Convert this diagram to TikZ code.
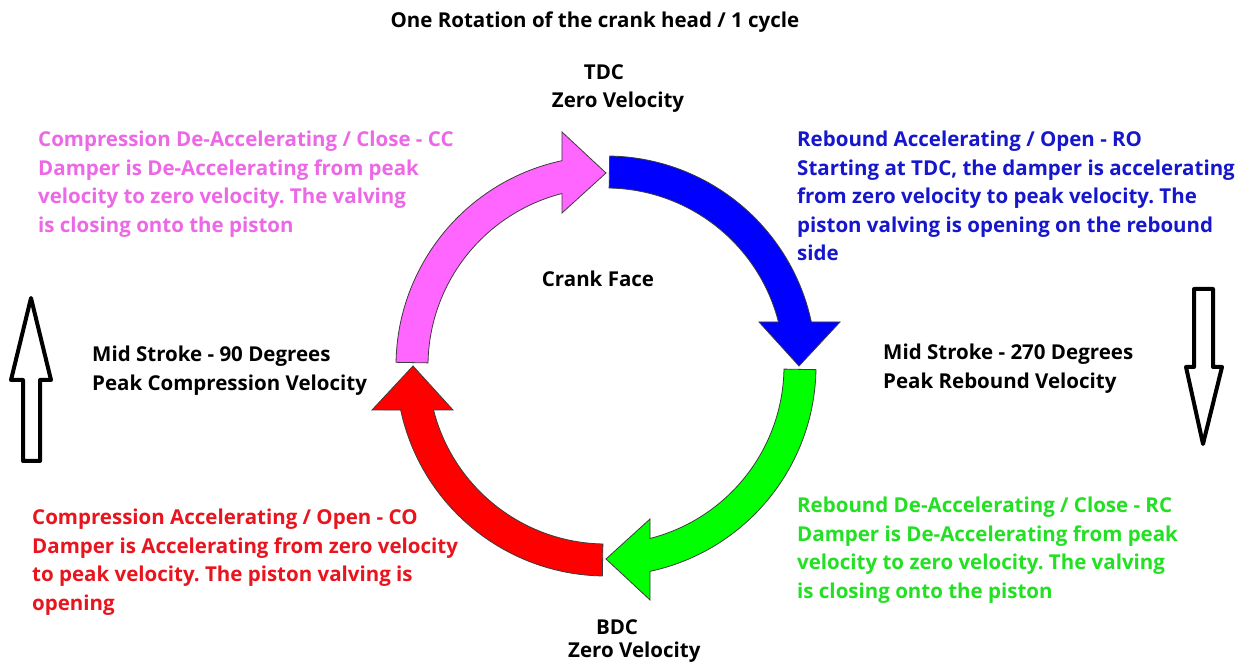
\documentclass[tikz,border=0pt]{standalone}
\usepackage{fontspec}
\setmainfont{Open Sans}
\frenchspacing
\definecolor{pinkF}{RGB}{255,102,255}
\definecolor{pinkT}{RGB}{236,104,230}
\definecolor{blueF}{RGB}{0,0,255}
\definecolor{blueT}{RGB}{22,22,205}
\definecolor{greenF}{RGB}{0,255,0}
\definecolor{greenT}{RGB}{34,224,34}
\definecolor{redF}{RGB}{255,0,0}
\definecolor{redT}{RGB}{232,20,30}
\definecolor{edgeC}{RGB}{60,60,60}
\newcommand\txtblock[1]{\vtop{\halign{##\hfil\cr#1\crcr}}}
\newcommand\quarterarrow[2]{%
  \draw[cyclearrow, fill=#2, shift={(606,302)}, rotate=#1]
    (89:210) arc[start angle=89, end angle=12.1, radius=210]
    -- (234,44) -- (193,0) -- (153,44)
    -- (14.31:178) arc[start angle=14.31, end angle=89, radius=178] -- cycle;}
\begin{document}
\begin{tikzpicture}[x=1pt, y=1pt,
  every node/.style={inner sep=0pt, font=\fontsize{20.5}{28.5}\selectfont\bfseries},
  lbl/.style={anchor=base west},
  clbl/.style={anchor=base},
  cyclearrow/.style={draw=edgeC, line width=0.8pt, line join=miter},
  bigarrow/.style={draw=black, line width=4pt, fill=white, line join=round}]
\fill[white] (0,0) rectangle (1244,668);
\useasboundingbox (0,0) rectangle (1244,668);

% cycle arrows
\quarterarrow{0}{blueF}
\quarterarrow{-90}{greenF}
\quarterarrow{180}{redF}
\quarterarrow{90}{pinkF}

% side arrows
\draw[bigarrow] (31,370) -- (51,288) -- (40,288) -- (40,207) -- (23,207) -- (23,288) -- (11,288) -- cycle;
\draw[bigarrow] (1194,379) -- (1213,379) -- (1213,301) -- (1222,301) -- (1203,224) -- (1186,301) -- (1194,301) -- cycle;

% labels
\node[clbl] (title) at (595,640) {One Rotation of the crank head / 1 cycle};
\node[clbl] (tdc) at (604,588) {TDC};
\node[clbl] (tdcv) at (618,560) {Zero Velocity};
\node[clbl] (bdc) at (617,33) {BDC};
\node[lbl] (bdcv) at (568,10) {Zero Velocity};
\node[clbl] (crank) at (598,381) {Crank Face};
\node[lbl] (mid90) at (92,306) {\txtblock{Mid Stroke - 90 Degrees\cr Peak Compression Velocity}};
\node[lbl] (mid270) at (883,308) {\txtblock{Mid Stroke - 270 Degrees\cr Peak Rebound Velocity}};
\node[lbl, text=pinkT] (cc) at (38,521) {\txtblock{Compression De-Accelerating / Close - CC\cr
Damper is De-Accelerating from peak\cr
velocity to zero velocity. The valving\cr
is closing onto the piston}};
\node[lbl, text=blueT] (ro) at (797,521) {\txtblock{Rebound Accelerating / Open - RO\cr
Starting at TDC, the damper is accelerating\cr
from zero velocity to peak velocity. The\cr
piston valving is opening on the rebound\cr
side}};
\node[lbl, text=redT] (co) at (32,143) {\txtblock{Compression Accelerating / Open - CO\cr
Damper is Accelerating from zero velocity\cr
to peak velocity. The piston valving is\cr
opening}};
\node[lbl, text=greenT] (rc) at (797,155) {\txtblock{Rebound De-Accelerating / Close - RC\cr
Damper is De-Accelerating from peak\cr
velocity to zero velocity. The valving\cr
is closing onto the piston}};
\end{tikzpicture}
\end{document}
